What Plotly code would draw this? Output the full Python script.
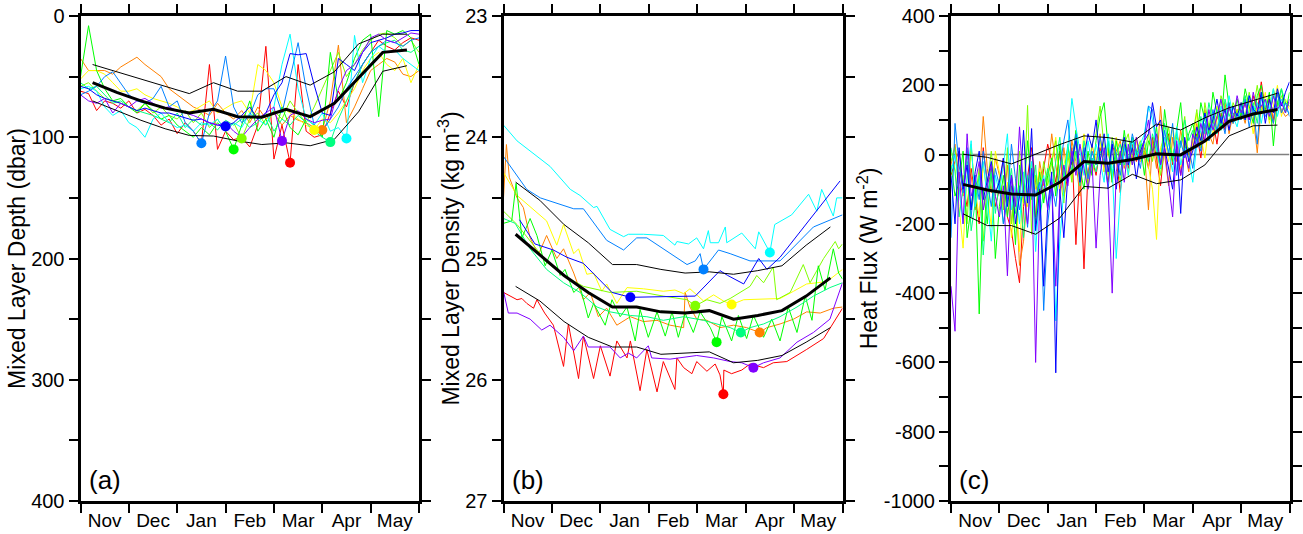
import plotly.graph_objects as go

months = ["Nov", "Dec", "Jan", "Feb", "Mar", "Apr", "May"]
color_names = ["red", "orange", "yellow", "chartreuse", "green",
               "springgreen", "cyan", "azure", "blue", "violet"]
colors = ["#FF0000", "#FF8000", "#FFFF00", "#80FF00", "#00FF00",
          "#00FF80", "#00FFFF", "#0080FF", "#0000FF", "#8000FF"]

# ---------------- (a) Mixed layer depth (dbar), 5-day samples --------------
mld_red = [62, 64, 78, 70, 72, 76, 70, 80, 77, 82, 90, 85, 97, 88, 95, 105, 40, 110, 95, 102,
           100, 108, 90, 25, 118, 90, 121, 40, 95, 100, 98, 80, 62, 75, 55, 40, 30, 20, 25, 28, 22, 18, 20]
mld_orange = [35, 45, 45, 45, 48, 42, 38, 34, 40, 45, 50, 60, 65, 70, 75, 78, 82, 72, 80, 85,
              78, 88, 75, 85, 80, 90, 82, 86, 88, 92, 94, 70, 24, 88, 75, 60, 45, 40, 35, 38, 48, 50, 45]
mld_yellow = [52, 45, 45, 48, 55, 62, 62, 60, 65, 68, 70, 72, 75, 80, 78, 74, 70, 80, 76, 72,
              70, 80, 40, 45, 55, 75, 80, 85, 90, 94, 85, 88, 80, 70, 60, 45, 35, 30, 40, 45, 35, 55, 40]
mld_chartreuse = [58, 55, 62, 68, 70, 72, 75, 78, 72, 80, 75, 82, 85, 78, 88, 80, 92, 85, 95, 88,
                  101, 85, 80, 90, 78, 85, 70, 80, 88, 75, 60, 45, 30, 50, 40, 28, 20, 15, 14, 18, 25, 20, 30]
mld_green = [50, 8, 45, 60, 70, 68, 75, 80, 72, 78, 85, 82, 90, 95, 100, 92, 98, 88, 95, 110,
             90, 70, 95, 85, 100, 75, 92, 98, 85, 90, 100, 30, 70, 55, 35, 20, 15, 83, 12, 15, 12, 18, 40]
mld_springgreen = [55, 60, 58, 65, 72, 70, 75, 78, 80, 82, 85, 88, 80, 92, 85, 90, 88, 94, 86, 90,
                   85, 92, 88, 80, 95, 85, 90, 82, 88, 95, 100, 104, 85, 70, 55, 40, 30, 25, 22, 20, 28, 30, 25]
mld_cyan = [60, 58, 62, 75, 82, 78, 88, 92, 100, 85, 80, 88, 92, 90, 95, 88, 90, 85, 95, 88,
            92, 80, 85, 90, 75, 40, 15, 60, 85, 90, 80, 95, 92, 101, 16, 55, 35, 25, 30, 28, 35, 40, 45]
mld_azure = [65, 62, 58, 50, 46, 55, 65, 70, 72, 68, 58, 75, 70, 88, 95, 105, 80, 70, 33, 75,
             88, 82, 65, 60, 60, 80, 50, 22, 60, 90, 95, 85, 75, 60, 50, 40, 30, 25, 20, 22, 25, 20, 18]
mld_blue = [58, 60, 65, 68, 70, 72, 75, 78, 76, 78, 80, 80, 82, 84, 86, 85, 88, 90, 91, 88,
            82, 75, 85, 80, 65, 55, 31, 32, 31, 57, 80, 82, 35, 40, 45, 30, 22, 20, 18, 15, 14, 12, 12]
mld_violet = [65, 70, 72, 68, 80, 72, 75, 70, 68, 72, 76, 75, 78, 80, 82, 85, 88, 90, 88, 95,
              100, 92, 85, 80, 75, 103, 82, 78, 85, 88, 86, 85, 60, 45, 40, 30, 18, 15, 20, 22, 18, 14, 15]

mean_x = [0.25, 0.75, 1.25, 1.75, 2.25, 2.75, 3.25, 3.75, 4.25, 4.75, 5.25, 5.75, 6.25, 6.75]
mld_mean = [55, 63, 70, 76, 80, 77, 83, 83.5, 77, 83, 72, 51, 30, 28]
mld_upper = [40, 46, 52, 58, 64, 55, 62, 62, 50, 57, 46, 23, 15, 15]
mld_lower = [70, 78, 86, 93, 98.5, 99, 103, 106, 104.6, 107, 101.7, 79, 45.6, 41]

# ---------------- (b) Mixed layer density (kg m-3) -------------------------
den_red_x = [0, 0.14, 0.28, 0.38, 0.48, 0.62, 0.69, 0.85, 1.03, 1.24, 1.34, 1.55, 1.65, 1.86, 2.0, 2.2, 2.34,
             2.55, 2.62, 2.82, 2.96, 3.17, 3.3, 3.54, 3.58, 3.72, 3.89, 3.99, 4.2, 4.37, 4.47, 4.54, 4.55,
             4.71, 4.92, 5.09, 5.37, 5.57, 5.85, 6.26, 6.61, 7.0]
den_red_y = [25.28, 25.31, 25.34, 25.33, 25.37, 25.41, 25.34, 25.45, 25.55, 25.89, 25.54, 25.99, 25.64, 25.99,
             25.72, 25.97, 25.68, 25.82, 25.68, 26.09, 25.75, 26.10, 25.85, 26.08, 25.82, 25.90, 25.95, 25.85,
             25.93, 25.87, 25.96, 26.12, 25.92, 25.95, 25.92, 25.87, 25.90, 25.86, 25.85, 25.75, 25.66, 25.41]
den_orange_x = [0, 0.06, 0.12, 0.28, 0.41, 0.55, 0.72, 0.89, 1.1, 1.24, 1.45, 1.65, 1.79, 1.96, 2.13, 2.34,
                2.62, 2.89, 3.17, 3.44, 3.72, 3.75, 3.85, 3.99, 4.2, 4.47, 4.75, 5.02, 5.29, 5.44, 5.71,
                5.99, 6.26, 6.54, 6.81, 7.0]
den_orange_y = [24.50, 24.06, 24.33, 24.50, 24.58, 24.83, 24.97, 24.81, 25.00, 24.92, 25.12, 25.34, 25.28,
                25.48, 25.41, 25.55, 25.48, 25.52, 25.51, 25.55, 25.57, 25.28, 25.40, 25.50, 25.51, 25.57,
                25.55, 25.57, 25.61, 25.57, 25.54, 25.50, 25.44, 25.45, 25.41, 25.40]
den_yellow_x = [0, 0.28, 0.89, 1.1, 1.24, 1.45, 1.55, 1.72, 1.86, 2.03, 2.13, 2.34, 2.55, 2.89, 3.3, 3.54,
                3.72, 3.85, 4.13, 4.34, 4.54, 4.71, 4.96, 5.71, 5.99, 6.26, 6.68, 7.0]
den_yellow_y = [24.29, 24.48, 24.69, 24.89, 24.72, 24.96, 24.92, 25.13, 25.12, 25.27, 25.21, 25.37, 25.24,
                25.25, 25.27, 25.26, 25.29, 25.25, 25.35, 25.30, 25.35, 25.38, 25.34, 25.33, 25.27, 25.21,
                25.19, 25.09]
den_chartreuse_x = [0, 0.28, 0.62, 0.89, 1.24, 1.65, 2.2, 2.75, 3.3, 3.79, 3.96, 4.2, 4.47, 4.68, 5.09, 5.23,
                    5.37, 5.57, 5.64, 5.92, 6.19, 6.33, 6.61, 6.85, 6.92, 7.0]
den_chartreuse_y = [24.61, 24.72, 24.89, 25.03, 25.14, 25.23, 25.28, 25.27, 25.31, 25.34, 25.39, 25.34, 25.37,
                    25.33, 25.23, 25.14, 25.20, 25.07, 25.34, 25.28, 25.05, 25.20, 25.00, 24.86, 24.92, 24.88]
den_green_x = [0, 0.17, 0.26, 0.38, 0.55, 0.69, 0.86, 1.0, 1.17, 1.27, 1.45, 1.58, 1.75, 1.86, 2.1, 2.24,
               2.41, 2.55, 2.72, 2.82, 2.99, 3.17, 3.34, 3.48, 3.61, 3.75, 3.92, 4.06, 4.27, 4.4, 4.51, 4.71,
               4.85, 5.02, 5.16, 5.37, 5.54, 5.71, 5.88, 6.06, 6.23, 6.37, 6.5, 6.64, 6.81, 6.92, 7.0]
den_green_y = [24.71, 24.69, 24.38, 24.83, 24.67, 24.81, 25.06, 24.93, 25.14, 25.09, 25.28, 25.23, 25.49,
               25.37, 25.55, 25.34, 25.48, 25.40, 25.68, 25.42, 25.65, 25.44, 25.64, 25.44, 25.65, 25.45,
               25.61, 25.44, 25.57, 25.69, 25.48, 25.68, 25.47, 25.66, 25.47, 25.65, 25.50, 25.68, 25.40,
               25.61, 25.31, 25.51, 25.06, 25.26, 24.92, 25.12, 25.17]
den_springgreen_x = [0, 0.24, 0.55, 0.89, 1.24, 1.58, 1.93, 2.2, 2.62, 2.96, 3.3, 3.72, 4.13, 4.47, 4.68, 4.9,
                     5.09, 5.37, 5.71, 6.06, 6.4, 6.74, 7.0]
den_springgreen_y = [24.67, 24.71, 24.92, 25.09, 25.20, 25.28, 25.40, 25.44, 25.47, 25.48, 25.51, 25.48,
                     25.51, 25.55, 25.57, 25.61, 25.57, 25.54, 25.48, 25.40, 25.31, 25.24, 25.20]
den_cyan_x = [0, 0.28, 0.96, 1.38, 1.58, 1.86, 1.93, 2.2, 2.48, 2.58, 2.89, 3.3, 3.54, 3.58, 3.82, 3.99, 4.13,
              4.23, 4.27, 4.44, 4.58, 4.61, 4.92, 5.2, 5.27, 5.5, 5.6, 5.95, 6.3, 6.47, 6.57, 6.81, 6.88, 7.0]
den_cyan_y = [23.90, 24.03, 24.24, 24.43, 24.48, 24.58, 24.57, 24.76, 24.82, 24.80, 24.80, 24.81, 24.89,
              24.86, 24.88, 24.83, 24.92, 24.77, 24.87, 24.87, 24.74, 24.87, 24.79, 24.92, 24.78, 24.95,
              24.72, 24.64, 24.47, 24.61, 24.43, 24.65, 24.50, 24.50]
den_azure_x = [0, 0.48, 0.76, 1.45, 1.65, 2.13, 2.48, 2.75, 2.96, 3.3, 3.79, 3.96, 4.06, 4.13, 4.44, 4.68,
               5.09, 5.71, 6.4, 7.0]
den_azure_y = [24.16, 24.43, 24.50, 24.59, 24.59, 24.85, 24.93, 24.83, 24.83, 24.92, 25.05, 25.02, 24.96,
               25.09, 24.93, 24.96, 25.02, 25.02, 24.74, 24.64]
den_blue_x = [0.33, 0.65, 1.03, 1.31, 1.65, 2.24, 2.62, 3.96, 4.47, 4.63, 4.96, 5.27, 5.44, 5.71, 6.95]
den_blue_y = [24.68, 24.88, 24.93, 24.99, 25.04, 25.28, 25.32, 25.31, 25.10, 25.14, 25.21, 25.00, 25.09,
              24.99, 24.36]
den_violet_x = [0, 0.1, 0.28, 0.55, 0.79, 0.96, 1.24, 1.45, 1.65, 1.75, 2.2, 2.41, 2.58, 2.75, 2.99, 3.06,
                3.44, 3.99, 4.34, 4.68, 4.92, 5.16, 5.37, 5.71, 6.06, 6.4, 6.74, 7.0]
den_violet_y = [25.27, 25.45, 25.45, 25.50, 25.59, 25.55, 25.65, 25.76, 25.64, 25.73, 25.73, 25.82, 25.78,
                25.82, 25.72, 25.82, 25.83, 25.80, 25.82, 25.85, 25.86, 25.90, 25.86, 25.82, 25.69, 25.61,
                25.50, 25.20]

den_mean = [24.80, 24.97, 25.14, 25.28, 25.40, 25.40, 25.44, 25.45, 25.43, 25.50, 25.47, 25.43, 25.31, 25.16]
den_upper = [24.37, 24.52, 24.72, 24.87, 25.05, 25.05, 25.09, 25.12, 25.11, 25.13, 25.10, 25.06, 24.89, 24.74]
den_lower = [25.23, 25.35, 25.52, 25.65, 25.73, 25.73, 25.79, 25.78, 25.77, 25.86, 25.84, 25.80, 25.69, 25.57]

# ---------------- (c) Heat flux (W m-2), ~2.5-day samples ------------------
hf_red = [-60, -20, 10, -90, -150, -40, -120, -200, 20, -80, -60, -150,
          -100, -10, -180, -220, -300, -370, -150, -60, 20, -80, -140, -40,
          30, -20, -80, 10, -120, -60, 20, -260, -40, -330, -50, -10,
          -60, 20, -30, -80, 30, -10, -110, 10, -40, 30, -20, 10,
          20, -40, 50, -10, -90, 30, 60, -30, 10, -60, 40, 0,
          20, 60, -10, 80, 40, 100, 30, 120, 70, 140, 90, 130,
          110, 150, 100, 170, 120, 210, 130, 160, 100, 180, 120, 150, 140]
hf_orange = [-30, 30, -70, -120, 10, -60, -160, -80, 110, -40, -110, -10,
             -60, -150, -30, -200, -90, -320, -250, -110, -40, -180, -20, -90,
             -50, 60, -30, -100, 20, -70, 40, -20, -120, 10, -60, 30,
             -30, 60, -50, 20, -80, 10, 40, -40, 20, -10, 50, -20,
             10, -160, 40, -40, 140, 0, -90, 50, -20, 70, 10, -50,
             40, 90, 20, 130, 60, 30, 110, 80, 150, 60, 120, 100,
             130, 90, 160, 110, 5, 140, 120, 170, 90, 150, 130, 110, 120]
hf_yellow = [10, -40, -150, -270, -60, 20, -100, -180, -30, -110, -210, 10,
             -50, -160, -80, -240, -120, -280, -60, -150, -20, -100, -40, -130,
             -60, -20, 50, -100, -30, 20, -70, 10, -40, 60, -20, -60,
             0, 40, -50, 20, -30, 50, -10, 30, -60, 10, 40, -20,
             30, -30, -100, -245, 20, 50, -20, 80, 10, -40, 40, 10,
             30, 120, 50, -10, 90, 60, 140, 80, 110, 150, 90, 130,
             100, 170, 130, 60, 150, 120, 180, 90, 140, 200, 110, 160, 130]
hf_chartreuse = [-20, 20, -110, -60, -200, 30, -130, -40, -250, -90, 10, -120,
                 -70, -160, 20, -200, -90, 10, -140, 142, -230, -60, -120, -20,
                 -90, -30, 40, -60, -140, 0, -80, 50, -40, 20, -100, 30,
                 60, 140, 20, -60, 50, -10, -80, 30, 60, -30, 10, 40,
                 0, 60, -20, 40, -60, 20, 80, -10, 50, 30, 110, -20,
                 60, 130, 20, 150, 80, 110, 60, 170, 130, 90, 150, 120,
                 150, 110, 180, 130, 200, 120, 160, 100, 190, 140, 170, 130, 150]
hf_green = [-30, -120, -80, 10, -240, -150, -60, -460, -100, -200, -30, -300,
            -150, -60, -180, -90, -260, -30, -120, 40, -90, -200, -50, -140,
            -60, -10, -120, 30, -70, 20, -30, 70, -40, -100, 10, -60,
            40, 110, 150, 20, -80, 40, -30, 70, -20, 50, 0, 30,
            -60, 40, 10, 80, -40, 130, 40, -20, 70, 150, 10, 60,
            90, 40, 150, 100, 60, 180, 120, 80, 230, 140, 100, 160,
            110, 190, 140, 90, 170, 200, 120, 180, 25, 150, 190, 120, 180]
hf_springgreen = [20, -50, -180, -100, -20, -220, -140, -60, -290, -120, -50, -170,
                  -80, -200, -120, -40, -170, -90, -240, -60, -130, -30, -190, -100,
                  -40, -120, -20, 50, -70, 30, -50, 10, -90, 40, -30, -10,
                  -50, 10, -20, 40, -60, 0, 30, -30, 10, 50, -10, 20,
                  40, -20, 60, 10, -40, 90, 30, -10, 60, 20, 100, 40,
                  70, 20, 110, 60, 150, 90, 130, 70, 160, 110, 140, 100,
                  130, 170, 110, 150, 90, 180, 140, 120, 170, 130, 190, 150, 140]
hf_cyan = [-50, 0, -100, -200, -60, 40, -150, -80, -20, -130, -250, -60,
           -110, -30, 60, -160, -90, -200, -50, -140, -20, -280, -100, -60,
           -150, -70, -480, -250, -100, 20, 162, 80, 10, -60, 40, -30,
           30, -20, -80, 60, -40, -300, -120, 20, -60, 40, -10, 30,
           60, 140, 100, 20, -40, 50, 10, -50, 80, -30, 20, -10,
           -80, 30, 70, 120, 40, 90, 60, 140, 100, 170, 110, 80,
           140, 100, 170, 120, 150, 90, 160, 130, 190, 110, 160, 130, 120]
hf_azure = [-240, 90, -30, -110, 20, -180, -60, -130, 10, -80, -150, -40,
            -90, -200, -130, 30, -70, -160, -100, -210, -40, -120, -80, -450,
            -200, -90, -150, -40, 40, 100, -20, 60, -50, 20, -70, 10,
            -30, 50, -10, -100, 40, 0, -60, 30, -20, 60, 10, -40,
            50, 140, 130, 30, -30, 70, 0, 90, -60, 40, -10, 20,
            -40, 50, 10, 90, 40, 130, 70, 110, 60, 150, 90, 120,
            100, 160, 80, 140, 30, 170, 110, 130, 90, 180, 120, 150, 110]
hf_blue = [-60, -200, 20, -100, -30, -160, -50, 10, -130, -70, -20, -110,
           -80, -10, -150, -60, -200, -120, 70, -140, 75, -220, -100, -380,
           -150, -50, -630, -100, -240, -60, -20, 40, -80, -10, 60, 20,
           100, -20, 60, -50, 30, -100, 0, 50, -30, 20, -70, 10,
           40, 60, 150, 80, 100, 20, -40, -100, 30, -170, 50, -20,
           10, 80, 40, 120, 70, 100, 160, 90, 130, 70, 140, 110,
           150, 100, 170, 130, 120, 180, 90, 160, 120, 190, 140, 180, 210]
hf_violet = [-380, -510, -50, -200, 60, -120, -80, -20, -160, -100, -30, -120,
             -180, -90, -350, -60, -150, 80, -100, -200, -40, -600, -130, -70,
             -160, -80, -380, -110, -30, -90, 10, -60, 30, -40, -100, -20,
             -270, -60, 20, -100, -400, -50, 10, -80, 30, -30, 50, -10,
             40, 100, 0, 60, -30, 20, -80, -180, 40, -60, 10, -40,
             60, 20, 90, 40, 130, 70, 110, 160, 90, 140, 100, 170,
             120, 150, 100, 180, 130, 140, 160, 110, 170, 130, 150, 120, 160]

hf_mean = [-86, -102, -114, -117, -80, -20, -25, -14, 2, -1, 39, 96, 117, 130]
hf_upper = [1, -8, -27, 1, 29, 54, 49, 36, 88, 71, 106, 135, 157, 177]
hf_lower = [-171, -205, -205, -230, -183, -92, -97, -57, -84, -73, -30, 54, 83, 85]
zero_x = [0, 7]
zero_y = [0, 0]

mld_series = [mld_red, mld_orange, mld_yellow, mld_chartreuse, mld_green,
              mld_springgreen, mld_cyan, mld_azure, mld_blue, mld_violet]
den_series = [(den_red_x, den_red_y), (den_orange_x, den_orange_y), (den_yellow_x, den_yellow_y),
              (den_chartreuse_x, den_chartreuse_y), (den_green_x, den_green_y),
              (den_springgreen_x, den_springgreen_y), (den_cyan_x, den_cyan_y),
              (den_azure_x, den_azure_y), (den_blue_x, den_blue_y), (den_violet_x, den_violet_y)]
hf_series = [hf_red, hf_orange, hf_yellow, hf_chartreuse, hf_green,
             hf_springgreen, hf_cyan, hf_azure, hf_blue, hf_violet]

mld_x = [i / 6 for i in range(len(mld_red))]
hf_x = [i / 12 for i in range(len(hf_red))]

FONT = "Liberation Sans, Arial, Helvetica, sans-serif"
fig = go.Figure()


def add_line(x, y, color, width, ax):
    fig.add_trace(go.Scatter(x=x, y=y, mode="lines", line=dict(color=color, width=width),
                             xaxis="x" + ax, yaxis="y" + ax, showlegend=False, hoverinfo="skip"))


def add_dot(x, y, color, ax):
    fig.add_trace(go.Scatter(x=[x], y=[y], mode="markers", marker=dict(color=color, size=10),
                             xaxis="x" + ax, yaxis="y" + ax, showlegend=False, hoverinfo="skip"))


# panel (a)
for vals, c in zip(mld_series, colors):
    add_line(mld_x, vals, c, 1, "")
for vals, w in ((mld_upper, 1), (mld_lower, 1), (mld_mean, 3)):
    add_line(mean_x, vals, "black", w, "")
for vals, c in zip(mld_series, colors):
    k = vals.index(max(vals))
    add_dot(mld_x[k], vals[k], c, "")

# panel (b)
for (xs, ys), c in zip(den_series, colors):
    add_line(xs, ys, c, 1, "2")
for vals, w in ((den_upper, 1), (den_lower, 1), (den_mean, 3)):
    add_line(mean_x, vals, "black", w, "2")
for (xs, ys), c in zip(den_series, colors):
    k = ys.index(max(ys))
    add_dot(xs[k], ys[k], c, "2")

# panel (c)
add_line(zero_x, zero_y, "#808080", 1.5, "3")
for vals, c in zip(hf_series, colors):
    add_line(hf_x, vals, c, 1, "3")
for vals, w in ((hf_upper, 1), (hf_lower, 1), (hf_mean, 3)):
    add_line(mean_x, vals, "black", w, "3")

W, H = 1303, 534
y_dom = [33 / H, 518 / H]
x_doms = [[80.5 / W, 419 / W], [503.5 / W, 842.5 / W], [951 / W, 1289.5 / W]]


def xaxis(dom, anchor):
    return dict(domain=dom, anchor=anchor, range=[0, 7], tickvals=[i + 0.5 for i in range(7)],
                ticktext=months, ticks="", ticklabelstandoff=0, automargin=False,
                minor=dict(tickvals=list(range(8)), ticks="outside", ticklen=9, tickwidth=2,
                           tickcolor="black", showgrid=False),
                showline=True, linewidth=3, linecolor="black", mirror="ticks",
                showgrid=False, zeroline=False, fixedrange=True,
                tickfont=dict(family=FONT, size=19, color="black"))


def yaxis(anchor, rng, tvals, dminor, title):
    return dict(domain=y_dom, anchor=anchor, range=rng, tickvals=tvals,
                ticktext=[("%g" % v).replace("\u2212", "-") for v in tvals],
                ticks="outside", ticklen=9, tickwidth=2, tickcolor="black", automargin=False,
                minor=dict(dtick=dminor, ticks="outside", ticklen=9, tickwidth=2,
                           tickcolor="black", showgrid=False),
                showline=True, linewidth=3, linecolor="black", mirror="ticks",
                showgrid=False, zeroline=False, fixedrange=True,
                tickfont=dict(family=FONT, size=20, color="black"),
                title=dict(text=title, font=dict(family=FONT, size=23, color="black"), standoff=0))


a_vals = [0, 100, 200, 300, 400]
b_vals = [23, 24, 25, 26, 27]
c_vals = [-1000, -800, -600, -400, -200, 0, 200, 400]

fig.update_layout(
    width=W, height=H, autosize=False,
    margin=dict(l=0, r=0, t=0, b=0),
    paper_bgcolor="white", plot_bgcolor="white",
    showlegend=False,
    font=dict(family=FONT, color="black"),
    xaxis=xaxis(x_doms[0], "y"),
    xaxis2=xaxis(x_doms[1], "y2"),
    xaxis3=xaxis(x_doms[2], "y3"),
    yaxis=yaxis("x", [400, 0], a_vals, 50, "Mixed Layer Depth (dbar)"),
    yaxis2=yaxis("x2", [27, 23], b_vals, 0.5, "Mixed Layer Density (kg m<sup>-3</sup>)"),
    yaxis3=yaxis("x3", [-1000, 400], c_vals, 100, "Heat Flux (W m<sup>-2</sup>)"),
)

for lbl, xr, yr in (("(a)", "x domain", "y domain"), ("(b)", "x2 domain", "y2 domain"),
                    ("(c)", "x3 domain", "y3 domain")):
    fig.add_annotation(text=lbl, xref=xr, yref=yr, x=0.018, y=0.008, xanchor="left", yanchor="bottom",
                       showarrow=False, font=dict(family=FONT, size=26, color="black"))

fig.write_html("out.html", config={"displayModeBar": False},
               post_script="document.body.style.margin='0';document.body.style.overflow='hidden';")
